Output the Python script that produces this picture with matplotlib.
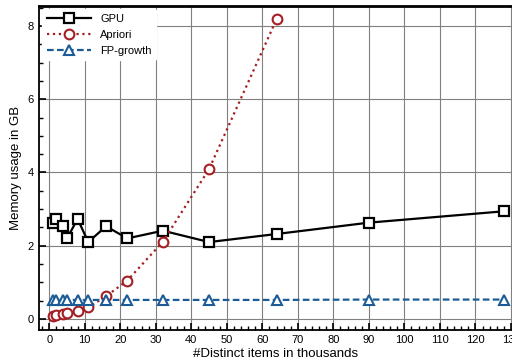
import matplotlib
matplotlib.use("Agg")
import matplotlib.pyplot as plt
from matplotlib.ticker import MultipleLocator

plt.rcParams["font.family"] = ["Liberation Sans", "DejaVu Sans"]

# distinct items (thousands)
items = [1, 2, 4, 5, 8, 11, 16, 22, 32, 45, 64, 90, 128]
gpu = [2.63, 2.73, 2.53, 2.2, 2.73, 2.1, 2.53, 2.2, 2.41, 2.1, 2.32, 2.63, 2.94]
apriori_x = [1, 2, 4, 5, 8, 11, 16, 22, 32, 45, 64]
apriori = [0.09, 0.1, 0.14, 0.15, 0.23, 0.32, 0.62, 1.05, 2.11, 4.09, 8.18]
fpgrowth = [0.52, 0.52, 0.52, 0.52, 0.52, 0.52, 0.52, 0.52, 0.52, 0.52, 0.52, 0.53, 0.53]

fig = plt.figure(figsize=(5.12, 3.63), dpi=100)
ax = fig.add_axes([0.076, 0.091, 0.924, 0.893])

ax.plot(items, gpu, color="black", lw=1.6, marker="s", ms=7,
        mfc="white", mec="black", mew=1.6, label="GPU", zorder=4)
ax.plot(apriori_x, apriori, color="#a31f24", lw=1.6, ls=":", marker="o", ms=7,
        mfc="white", mec="#a31f24", mew=1.5, label="Apriori", zorder=4)
ax.plot(items, fpgrowth, color="#1b5c97", lw=1.6, ls=(0, (3, 1.5)), marker="^", ms=7,
        mfc="white", mec="#1b5c97", mew=1.5, label="FP-growth", zorder=4)

ax.set_xlim(-2.9, 130.3)
ax.set_ylim(-0.3, 8.55)
ax.xaxis.set_major_locator(MultipleLocator(10))
ax.xaxis.set_minor_locator(MultipleLocator(2))
ax.yaxis.set_major_locator(MultipleLocator(2))
ax.yaxis.set_minor_locator(MultipleLocator(0.5))
ax.tick_params(which="both", direction="in", labelsize=8)
ax.tick_params(which="major", length=5, width=1.2)
ax.tick_params(which="minor", length=3, width=1)
ax.grid(True, which="major", color="#808080", lw=0.8)
ax.set_axisbelow(True)

ax.spines["top"].set_linewidth(2)
ax.spines["left"].set_linewidth(1.3)
ax.spines["bottom"].set_linewidth(1.3)
ax.spines["right"].set_visible(False)

ax.set_xlabel("#Distinct items in thousands", fontsize=9.5, labelpad=2)
ax.set_ylabel("Memory usage in GB", fontsize=9.5, labelpad=4)

leg = ax.legend(loc="upper left", frameon=True, fontsize=8, handlelength=4,
                borderaxespad=0.3, labelspacing=0.55)
leg.get_frame().set_edgecolor("white")
leg.get_frame().set_facecolor("white")
leg.get_frame().set_alpha(1)

fig.savefig("out.png", dpi=100)
